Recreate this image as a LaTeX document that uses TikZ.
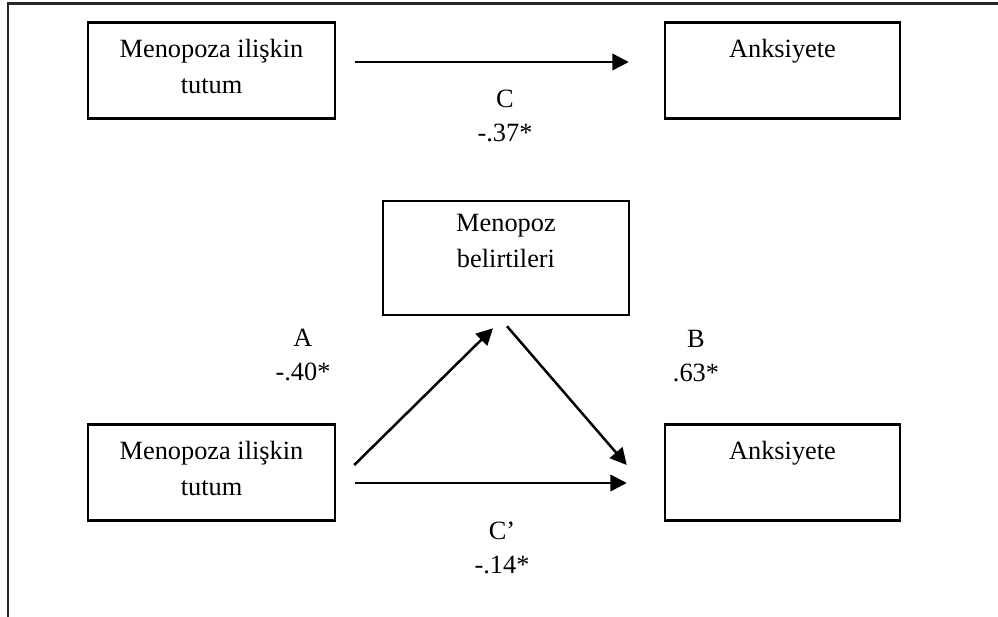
\documentclass[tikz,border=0pt]{standalone}
\usepackage{fontspec}
\setmainfont{Liberation Serif}
\usetikzlibrary{calc, positioning, arrows.meta}
\tikzstyle{var}=[draw, rectangle, line width=0.05cm, minimum height=1.93cm, inner sep=0pt]
\tikzstyle{wide var}=[var, minimum width=4.94cm]
\tikzstyle{narrow var}=[var, minimum width=4.7cm]
\tikzstyle{var text}=[anchor=north, align=center, inner sep=0pt]
\tikzstyle{coef}=[align=center, font=\fontsize{15}{19}\selectfont]
\tikzstyle{path arrow}=[-{Triangle[length=0.33cm,width=0.33cm]}, line width=0.05cm]

\begin{document}
\begin{tikzpicture}[x=0.02cm, y=-0.02cm, font=\fontsize{15}{20.5}\selectfont]
	\useasboundingbox (0,0) rectangle (998,616);
	% Outer frame, cut off at the right and bottom
	\begin{scope}
		\clip (0,0) rectangle (998,616);
		\draw[line width=0.05cm, black!85] (8,3.3) rectangle (1010,630);
	\end{scope}

	% Total effect
	\node[wide var, label={[var text, yshift=-0.36cm, name=att1-t]north:Menopoza ilişkin\\tutum}] (att1) at (211.5,70.5) {};
	\node[narrow var, label={[var text, yshift=-0.36cm, name=anx1-t]north:Anksiyete}] (anx1) at (782.5,70.5) {};
	\draw[path arrow] ($(att1.east)+(19,-8.5)$) -- ($(anx1.west)+(-35,-8.5)$);
	\node[coef] (c) at (505,116) {C\\-.37*};

	% Mediation model
	\node[var, minimum width=4.92cm, minimum height=2.28cm, label={[var text, yshift=-0.28cm, name=sym-t]north:Menopoz\\belirtileri}] (sym) at (506,258) {};
	\node[wide var, label={[var text, yshift=-0.36cm, name=att2-t]north:Menopoza ilişkin\\tutum}] (att2) at (211.5,472.5) {};
	\node[narrow var, label={[var text, yshift=-0.36cm, name=anx2-t]north:Anksiyete}] (anx2) at (782.5,472.5) {};

	\draw[path arrow] ($(att2.east)+(18,-7.5)$) -- ($(sym.south)+(-13,12)$);
	\draw[path arrow] ($(sym.south)+(1,10)$) -- ($(anx2.west)+(-37,-7.5)$);
	\draw[path arrow] ($(att2.east)+(19,10.5)$) -- ($(anx2.west)+(-37,10.5)$);

	% Path coefficients
	\node[coef] (a) at (303,355) {A\\-.40*};
	\node[coef] (b) at (696,356) {B\\.63*};
	\node[coef] (cp) at (502,548) {C’\\-.14*};
\end{tikzpicture}
\end{document}
